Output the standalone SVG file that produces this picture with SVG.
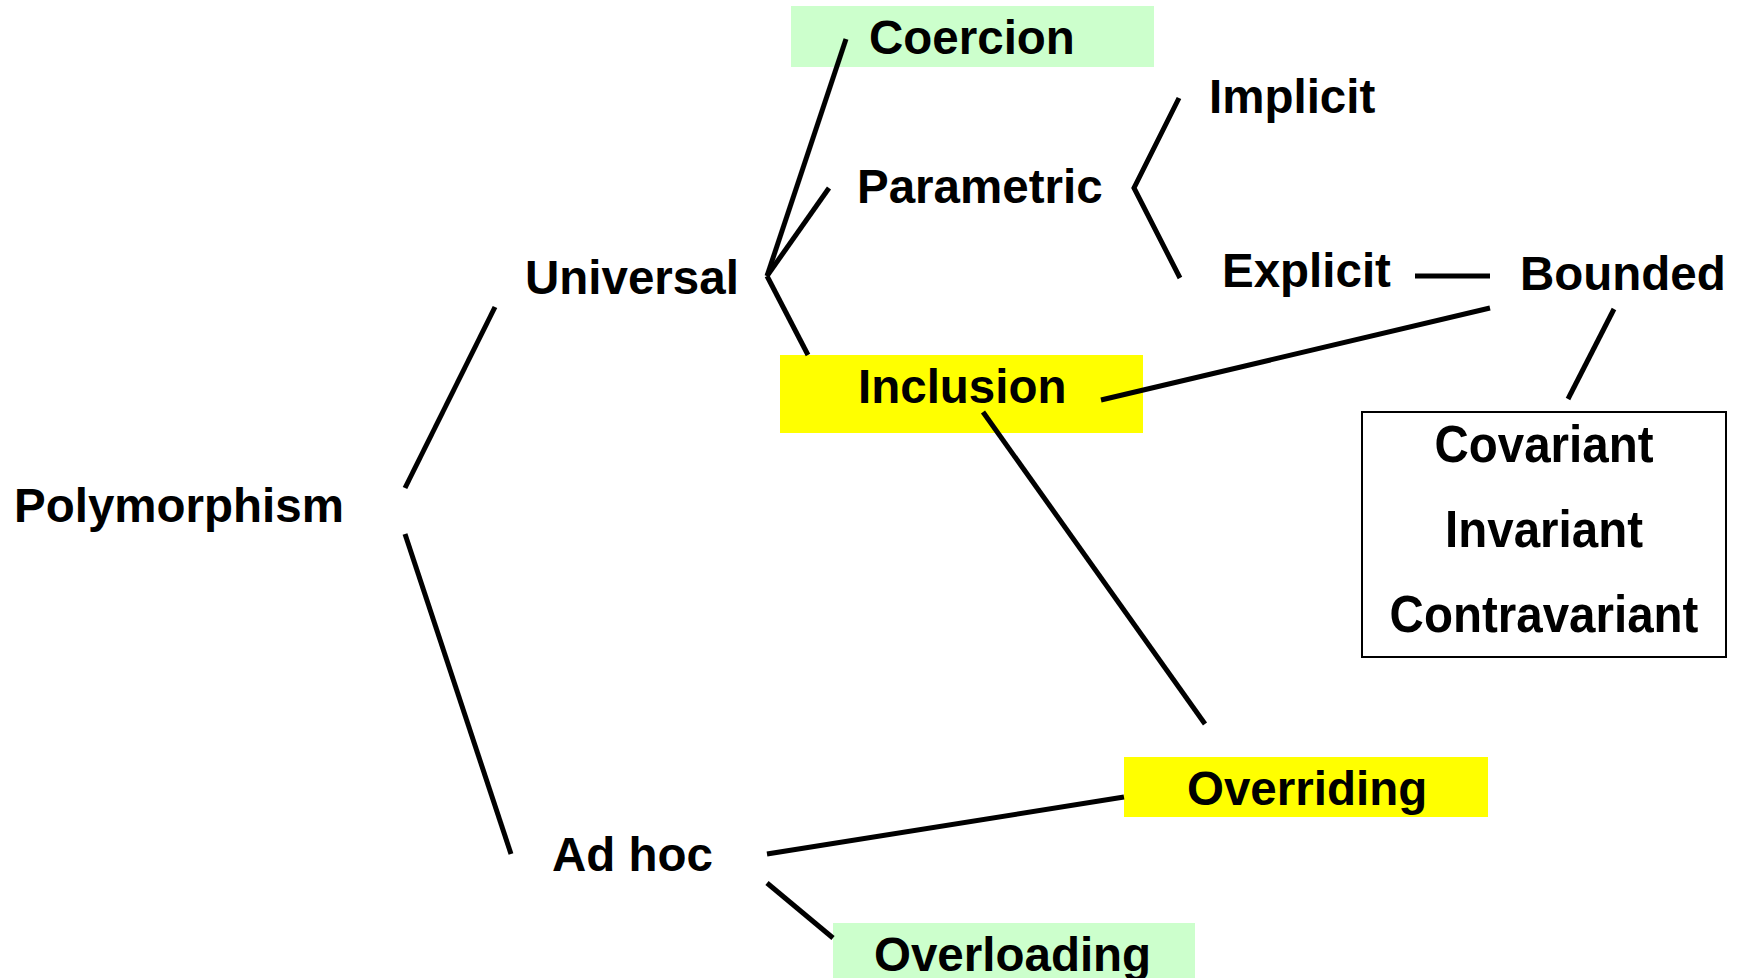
<svg xmlns="http://www.w3.org/2000/svg" width="1742" height="978" viewBox="0 0 1742 978">
<style>
text{font-family:"Liberation Sans",Arial,sans-serif;font-weight:bold;font-size:47.5px;fill:#000}
.c{stroke:#000;stroke-width:5;fill:none}
.green{fill:#CCFFCC}
.yellow{fill:#FFFF00}
</style>
<rect width="1742" height="978" fill="#fff"/>
<g id="polymorphism"><text x="14" y="522">Polymorphism</text></g>
<g id="universal"><text x="525" y="294">Universal</text></g>
<g id="adhoc"><text x="552" y="871">Ad hoc</text></g>
<g id="coercion"><rect class="green" x="791" y="6" width="363" height="61"/><text x="869" y="54">Coercion</text></g>
<g id="parametric"><text x="857" y="203">Parametric</text></g>
<g id="inclusion"><rect class="yellow" x="780" y="355" width="363" height="78"/><text x="858" y="403">Inclusion</text></g>
<g id="implicit"><text x="1209" y="113">Implicit</text></g>
<g id="explicit"><text x="1222" y="287">Explicit</text></g>
<g id="bounded"><text x="1520" y="290">Bounded</text></g>
<g id="variance">
<rect x="1362" y="412" width="364" height="245" fill="#fff" stroke="#000" stroke-width="2"/>
<text transform="translate(1544,462) scale(1,1.1)" text-anchor="middle">Covariant</text>
<text transform="translate(1544,547) scale(1,1.1)" text-anchor="middle">Invariant</text>
<text transform="translate(1544,632) scale(1,1.1)" text-anchor="middle">Contravariant</text>
</g>
<g id="overriding"><rect class="yellow" x="1124" y="757" width="364" height="60"/><text x="1187" y="805">Overriding</text></g>
<g id="overloading"><rect class="green" x="833" y="923" width="362" height="55"/><text x="874" y="971">Overloading</text></g>
<g id="connectors">
<line class="c" x1="405" y1="488" x2="495" y2="307"/>
<line class="c" x1="405" y1="534" x2="511" y2="854"/>
<line class="c" x1="846" y1="39" x2="767" y2="276"/>
<line class="c" x1="829" y1="188" x2="767" y2="276"/>
<line class="c" x1="767" y1="276" x2="808" y2="355"/>
<polyline class="c" points="1179,98 1134,188 1180,278"/>
<line class="c" x1="1415" y1="276" x2="1490" y2="276"/>
<line class="c" x1="1101" y1="400" x2="1490" y2="308"/>
<line class="c" x1="1614" y1="309" x2="1568" y2="399"/>
<line class="c" x1="983" y1="412" x2="1205" y2="724"/>
<line class="c" x1="767" y1="854" x2="1124" y2="797"/>
<line class="c" x1="767" y1="883" x2="833" y2="938"/>
</g>
</svg>
